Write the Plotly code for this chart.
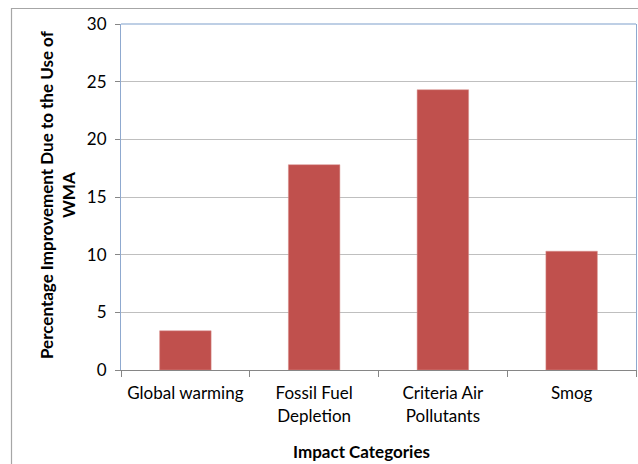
import plotly.graph_objects as go

categories = ["Global warming", "Fossil Fuel<br>Depletion", "Criteria Air<br>Pollutants", "Smog"]
values = [3.4, 17.8, 24.3, 10.3]
y_ticks = [0, 5, 10, 15, 20, 25, 30]
x_title = "Impact Categories"
y_title_lines = ["Percentage Improvement Due to the Use of", "WMA"]

FONT = "Lato, Carlito, Calibri, sans-serif"
W, H = 638, 464
L, R, T, B = 121, 2, 24, 94
pw, ph = W - L - R, H - T - B

def px_x(px):
    return (px - L) / pw

def px_y(py):
    return (H - B - py) / ph

fig = go.Figure(go.Bar(
    x=categories, y=values,
    marker=dict(color="#C0504D", line=dict(color="#D9908E", width=0.5)),
))

border = dict(color="#A6A6A6", width=1.2)
fig.update_layout(
    width=W, height=H,
    margin=dict(l=L, r=R, t=T, b=B),
    paper_bgcolor="white", plot_bgcolor="white",
    bargap=0.6,
    showlegend=False,
    font=dict(family=FONT, size=17, color="#000000"),
    xaxis=dict(
        type="category",
        showline=True, linecolor="#868686", linewidth=1,
        ticks="outside", tickson="boundaries", ticklen=6, tickcolor="#868686",
        showgrid=False, ticklabelstandoff=8,
        tickfont=dict(family=FONT, size=17),
    ),
    yaxis=dict(
        range=[0, 30], tickvals=y_ticks,
        showline=True, linecolor="#8FA9CF", linewidth=1, mirror=True,
        ticks="outside", ticklen=5, tickcolor="#868686",
        showgrid=True, gridcolor="#BFBFBF", gridwidth=1,
        zeroline=False, ticklabelstandoff=5,
        tickfont=dict(family=FONT, size=17),
    ),
    shapes=[
        dict(type="line", xref="paper", yref="paper", x0=0, x1=1, y0=1, y1=1,
             line=dict(color="#7F9FCB", width=1.2)),
        dict(type="line", xref="paper", yref="paper",
             x0=px_x(11), x1=px_x(650), y0=px_y(8.5), y1=px_y(8.5), line=border),
        dict(type="line", xref="paper", yref="paper",
             x0=px_x(11.5), x1=px_x(11.5), y0=px_y(8), y1=px_y(480), line=border),
    ],
    annotations=[
        dict(text="<b>" + x_title + "</b>", xref="paper", yref="paper",
             x=px_x(361), y=px_y(451),
             showarrow=False, font=dict(family=FONT, size=17, color="#000000"),
             xanchor="center", yanchor="middle"),
        dict(text="<br>".join("<b>" + s + "</b>" for s in y_title_lines),
             xref="paper", yref="paper", x=px_x(58), y=px_y(195),
             showarrow=False, textangle=-90,
             font=dict(family=FONT, size=17, color="#000000"),
             xanchor="center", yanchor="middle"),
    ],
)

fig.write_html(
    "out.html",
    config={"displayModeBar": False},
    post_script="document.body.style.margin='0px';document.body.style.overflow='hidden';",
)
